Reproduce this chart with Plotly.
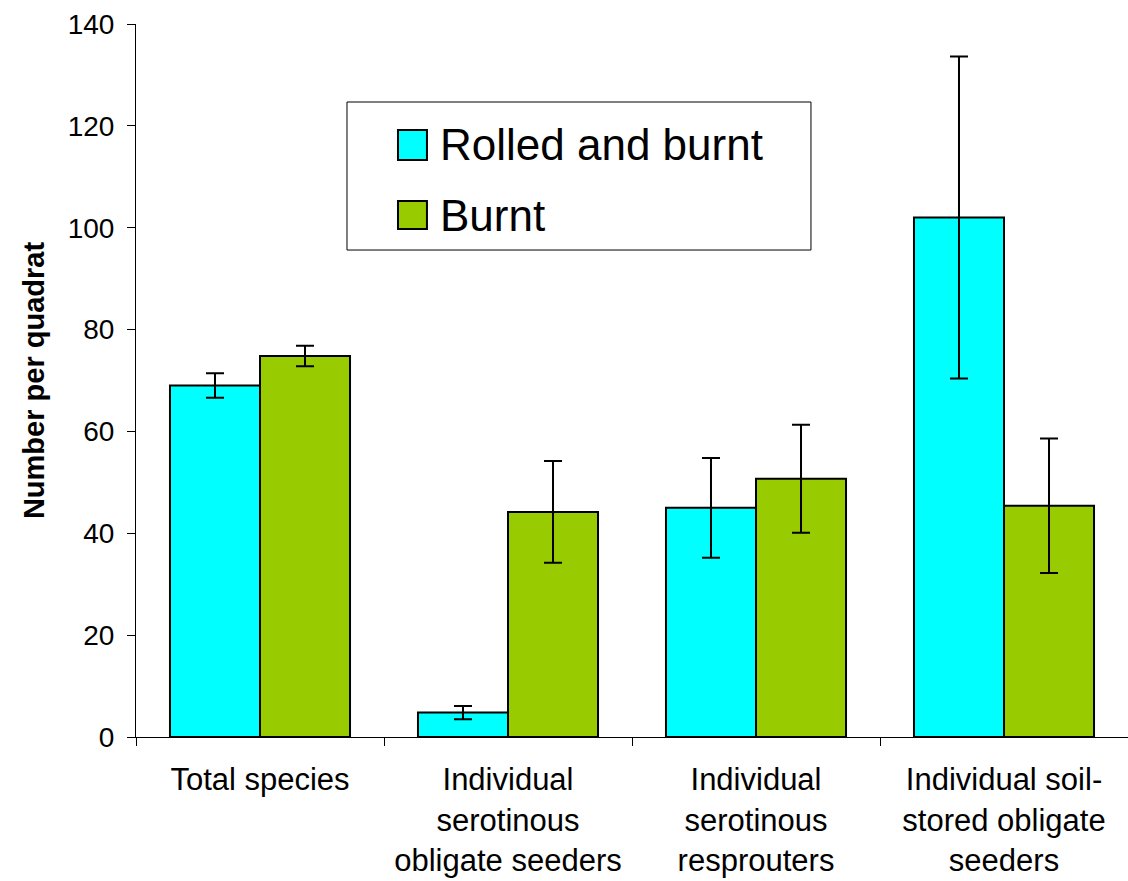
import plotly.graph_objects as go

categories = ["Total species",
              "Individual<br>serotinous<br>obligate seeders",
              "Individual<br>serotinous<br>resprouters",
              "Individual soil-<br>stored obligate<br>seeders"]
series_names = ["Rolled and burnt", "Burnt"]
rolled_vals = [69.0, 4.8, 45.0, 102.0]
rolled_err = [2.4, 1.3, 9.8, 31.6]
burnt_vals = [74.8, 44.2, 50.7, 45.4]
burnt_err = [2.0, 10.0, 10.6, 13.2]
colors = ["#00FFFF", "#99CC00"]

fig = go.Figure()
for name, vals, err, col in zip(series_names, [rolled_vals, burnt_vals],
                                [rolled_err, burnt_err], colors):
    fig.add_trace(go.Bar(
        name=name, x=categories, y=vals,
        marker=dict(color=col, line=dict(color="black", width=2)),
        error_y=dict(type="data", array=err, color="black", thickness=2, width=9),
        showlegend=False,
    ))

# custom legend (box, swatches, labels) in paper coordinates
fig.add_shape(type="rect", xref="paper", yref="paper",
              x0=0.2127, x1=0.6804, y0=0.683, y1=0.8906,
              line=dict(color="black", width=1), fillcolor="white", layer="above")
sw_y = [(0.8093, 0.8513), (0.7125, 0.7518)]
txt_y = [0.8303, 0.7321]
for (y0, y1), ty, name, col in zip(sw_y, txt_y, series_names, colors):
    fig.add_shape(type="rect", xref="paper", yref="paper",
                  x0=0.2641, x1=0.2933, y0=y0, y1=y1,
                  line=dict(color="black", width=2), fillcolor=col, layer="above")
    fig.add_annotation(xref="paper", yref="paper", x=0.3045, y=ty,
                       xanchor="left", yanchor="middle", showarrow=False,
                       text=name, font=dict(size=44, color="black"))

fig.update_layout(
    width=1128, height=881,
    margin=dict(l=136, r=0, t=24, b=144),
    paper_bgcolor="white", plot_bgcolor="white",
    barmode="group", bargap=0.274, bargroupgap=0,
    font=dict(family="Liberation Sans, Arial, sans-serif", color="black", size=26),
    showlegend=False,
    xaxis=dict(
        automargin=False,
        showline=True, linecolor="black", linewidth=1,
        ticks="outside", tickson="boundaries", ticklen=8, tickcolor="black",
        tickfont=dict(size=31), ticklabelstandoff=15,
    ),
    yaxis=dict(
        automargin=False,
        range=[0, 140], dtick=20, showgrid=False, zeroline=False,
        showline=True, linecolor="black", linewidth=1,
        ticks="outside", ticklen=8, tickcolor="black",
        tickfont=dict(size=28), ticklabelstandoff=7,
        title=dict(text="<b>Number per quadrat</b>", font=dict(size=29), standoff=14),
    ),
)

fig.write_html("out.html", config={"displayModeBar": False},
               post_script="document.body.style.margin='0';")
